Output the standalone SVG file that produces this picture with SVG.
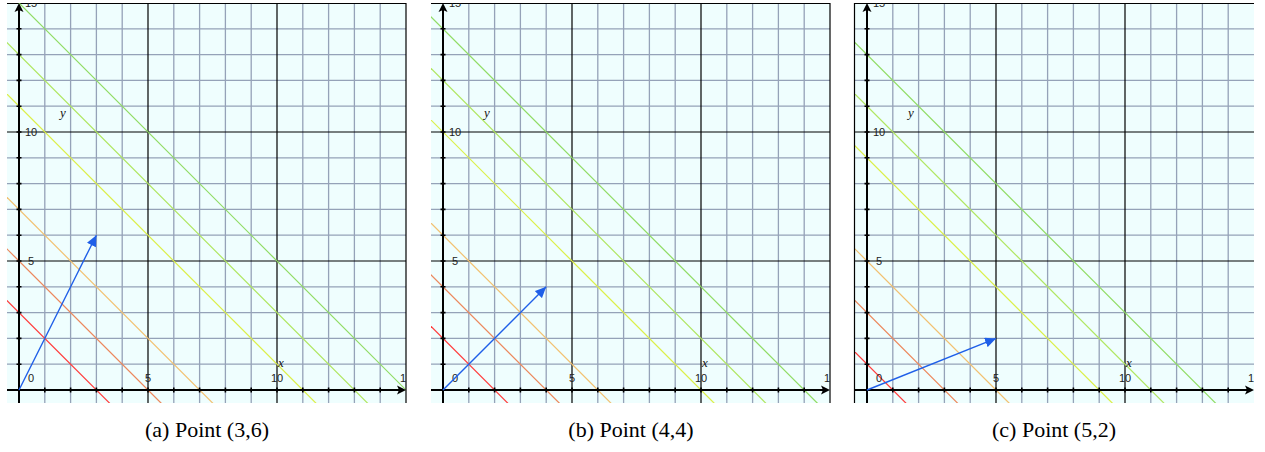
<svg xmlns="http://www.w3.org/2000/svg" width="1265" height="452" viewBox="0 0 1265 452">
<style>
.bg{fill:#effefe}
.g{stroke:#95a2b8;stroke-width:1.3;fill:none}
.k{stroke:#000;stroke-width:1.2;fill:none}
.ax{stroke:#000;stroke-width:2;fill:none}
.tk{stroke:#000;stroke-width:1.6}
.lv{stroke-width:1.2;fill:none}
.vec{stroke:#1f5fe8;stroke-width:1.4;fill:none}
.tl{font-family:"Liberation Sans",Arial,sans-serif;font-size:11px;fill:#222;text-anchor:middle}
.var{font-family:"Liberation Serif","Times New Roman",serif;font-style:italic;font-size:13px;fill:#111}
.cap{font-family:"Liberation Serif","Times New Roman",serif;font-size:22px;fill:#000;text-anchor:middle}
</style>
<defs>
<clipPath id="clip"><rect x="-12" y="-387" width="399" height="400"/></clipPath>
<marker id="vh" markerUnits="userSpaceOnUse" markerWidth="12" markerHeight="10" refX="11" refY="5" orient="auto"><path d="M0,0 L11,5 L0,10 Z" fill="#1f5fe8"/></marker>
<g id="grid">
<rect class="bg" x="-12" y="-387" width="399" height="400"/>
<path class="g" d="M25.8,-387V13M51.6,-387V13M77.4,-387V13M103.2,-387V13M154.8,-387V13M180.6,-387V13M206.4,-387V13M232.2,-387V13M283.8,-387V13M309.6,-387V13M335.4,-387V13M361.2,-387V13M-12,-25.8H387M-12,-51.6H387M-12,-77.4H387M-12,-103.2H387M-12,-154.8H387M-12,-180.6H387M-12,-206.4H387M-12,-232.2H387M-12,-283.8H387M-12,-309.6H387M-12,-335.4H387M-12,-361.2H387"/>
<path class="k" d="M129,-387V13M258,-387V13M-12,-129H387M-12,-258H387M-12,-386.5H387"/>
</g>
<g id="axes">
<path class="ax" d="M-12,0H380M0,13V-380"/>
<path d="M387,0L378,-4.5L380,0L378,4.5Z M0,-387L-4.5,-378L0,-380L4.5,-378Z" fill="#000"/>
<path class="tk" d="M25.8,-2.5v5M51.6,-2.5v5M77.4,-2.5v5M103.2,-2.5v5M129,-2.5v5M154.8,-2.5v5M180.6,-2.5v5M206.4,-2.5v5M232.2,-2.5v5M258,-2.5v5M283.8,-2.5v5M309.6,-2.5v5M335.4,-2.5v5M361.2,-2.5v5M-2.5,-25.8h5M-2.5,-51.6h5M-2.5,-77.4h5M-2.5,-103.2h5M-2.5,-129h5M-2.5,-154.8h5M-2.5,-180.6h5M-2.5,-206.4h5M-2.5,-232.2h5M-2.5,-258h5M-2.5,-283.8h5M-2.5,-309.6h5M-2.5,-335.4h5M-2.5,-361.2h5"/>
<text class="tl" x="12" y="-8">0</text>
<text class="tl" x="129" y="-8">5</text>
<text class="tl" x="258" y="-8">10</text>
<text class="tl" x="387" y="-8">15</text>
<text class="tl" x="12" y="-125">5</text>
<text class="tl" x="12" y="-254">10</text>
<text class="tl" x="12" y="-383">15</text>
<text class="var" x="259" y="-23">x</text>
<text class="var" x="41" y="-273">y</text>
</g>
</defs>

<g id="panel-a" transform="translate(19,390)">
<g clip-path="url(#clip)">
<use href="#grid"/>
<g id="levels-a">
<line class="lv" stroke="#ff3b3b" x1="-25.8" y1="-103.2" x2="103.2" y2="25.8"/>
<line class="lv" stroke="#ec885c" x1="-25.8" y1="-154.8" x2="154.8" y2="25.8"/>
<line class="lv" stroke="#f2c070" x1="-25.8" y1="-206.4" x2="206.4" y2="25.8"/>
<line class="lv" stroke="#dcef48" x1="-25.8" y1="-309.6" x2="309.6" y2="25.8"/>
<line class="lv" stroke="#b0e660" x1="-25.8" y1="-361.2" x2="361.2" y2="25.8"/>
<line class="lv" stroke="#90dc64" x1="-25.8" y1="-412.8" x2="412.8" y2="25.8"/>
</g>
<use href="#axes"/>
<line class="vec" x1="0" y1="0" x2="77.4" y2="-154.8" marker-end="url(#vh)"/>
</g>
<line class="k" x1="387" y1="-387" x2="387" y2="13" stroke-width="1.3"/>
</g>

<g id="panel-b" transform="translate(443,390)">
<g clip-path="url(#clip)">
<use href="#grid"/>
<g id="levels-b">
<line class="lv" stroke="#ff3b3b" x1="-25.8" y1="-77.4" x2="77.4" y2="25.8"/>
<line class="lv" stroke="#ec885c" x1="-25.8" y1="-129" x2="129" y2="25.8"/>
<line class="lv" stroke="#f2c070" x1="-25.8" y1="-180.6" x2="180.6" y2="25.8"/>
<line class="lv" stroke="#dcef48" x1="-25.8" y1="-283.8" x2="283.8" y2="25.8"/>
<line class="lv" stroke="#b0e660" x1="-25.8" y1="-335.4" x2="335.4" y2="25.8"/>
<line class="lv" stroke="#90dc64" x1="-25.8" y1="-387" x2="387" y2="25.8"/>
</g>
<use href="#axes"/>
<line class="vec" x1="0" y1="0" x2="103.2" y2="-103.2" marker-end="url(#vh)"/>
</g>
<line class="k" x1="387" y1="-387" x2="387" y2="13" stroke-width="1.3"/>
</g>

<g id="panel-c" transform="translate(867,390)">
<g clip-path="url(#clip)">
<use href="#grid"/>
<g id="levels-c">
<line class="lv" stroke="#ff3b3b" x1="-25.8" y1="-51.6" x2="51.6" y2="25.8"/>
<line class="lv" stroke="#ec885c" x1="-25.8" y1="-103.2" x2="103.2" y2="25.8"/>
<line class="lv" stroke="#f2c070" x1="-25.8" y1="-154.8" x2="154.8" y2="25.8"/>
<line class="lv" stroke="#dcef48" x1="-25.8" y1="-258" x2="258" y2="25.8"/>
<line class="lv" stroke="#b0e660" x1="-25.8" y1="-309.6" x2="309.6" y2="25.8"/>
<line class="lv" stroke="#90dc64" x1="-25.8" y1="-361.2" x2="361.2" y2="25.8"/>
</g>
<use href="#axes"/>
<line class="vec" x1="0" y1="0" x2="129" y2="-51.6" marker-end="url(#vh)"/>
</g>
<line class="k" x1="-12.5" y1="-387" x2="-12.5" y2="13" stroke-width="1.3"/>
</g>

<g id="captions">
<text class="cap" x="207" y="437">(a) Point (3,6)</text>
<text class="cap" x="631" y="437">(b) Point (4,4)</text>
<text class="cap" x="1054" y="437">(c) Point (5,2)</text>
</g>
</svg>
